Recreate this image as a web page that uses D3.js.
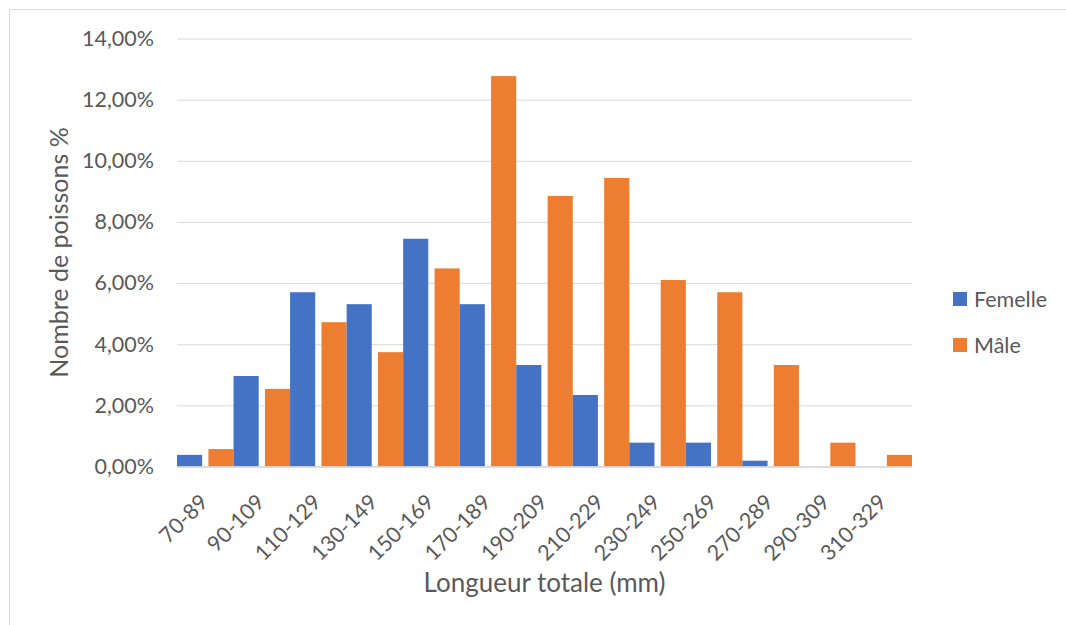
<!DOCTYPE html>
<html>
<head>
<meta charset="utf-8">
<script src="https://cdn.jsdelivr.net/npm/d3@7"></script>
<style>
  html, body { margin: 0; padding: 0; background: #fff; }
  svg { display: block; }
  text { font-family: Lato, "Open Sans", sans-serif; fill: #595959; }
</style>
</head>
<body>
<svg id="chart" width="1066" height="625"></svg>
<script>
const categories = ["70-89","90-109","110-129","130-149","150-169","170-189","190-209","210-229","230-249","250-269","270-289","290-309","310-329"];
const femelle = [0.0038, 0.0296, 0.0570, 0.0531, 0.0745, 0.0531, 0.0332, 0.0234, 0.0078, 0.0078, 0.0019, 0, 0];
const male    = [0.0057, 0.0254, 0.0472, 0.0374, 0.0648, 0.1277, 0.0885, 0.0944, 0.0610, 0.0570, 0.0332, 0.0078, 0.0038];
const seriesNames = ["Femelle", "Mâle"];
const colors = ["#4472C4", "#ED7D31"];
const yTicks = [0, 0.02, 0.04, 0.06, 0.08, 0.10, 0.12, 0.14];

const svg = d3.select("#chart");
const pLeft = 177, pRight = 912, pTop = 38.5, pBottom = 466.5;

// chart border
svg.append("rect").attr("x", 9.5).attr("y", 9.5).attr("width", 1100).attr("height", 700)
  .attr("fill", "none").attr("stroke", "#D9D9D9").attr("stroke-width", 1);

const x = d3.scaleBand().domain(categories).range([pLeft, pRight]).paddingInner(0).paddingOuter(0);
const y = d3.scaleLinear().domain([0, 0.14]).range([pBottom, pTop]);

const fmt = v => d3.format(".2f")(v * 100).replace(".", ",") + "%";

// y axis with gridlines
const yAxis = svg.append("g").attr("transform", `translate(${pLeft},0)`)
  .call(d3.axisLeft(y).tickValues(yTicks).tickFormat(fmt)
        .tickSizeInner(-(pRight - pLeft)).tickSizeOuter(0).tickPadding(23));
yAxis.select(".domain").remove();
yAxis.selectAll(".tick line").attr("stroke", "#D9D9D9").attr("stroke-width", 1);
yAxis.selectAll(".tick text").attr("font-size", 21.5).style("font-family", "Lato, sans-serif").attr("fill", "#595959");

// bars
const bw = x.bandwidth() / 2.25;
const data = categories.map((c, i) => ({ c, vals: [femelle[i], male[i]] }));
const groups = svg.append("g").selectAll("g").data(data).join("g");
groups.selectAll("rect").data(d => d.vals.map((v, s) => ({ c: d.c, v, s })))
  .join("rect")
  .attr("x", d => x(d.c) + d.s * 1.25 * bw)
  .attr("width", bw)
  .attr("y", d => y(d.v))
  .attr("height", d => y(0) - y(d.v))
  .attr("fill", d => colors[d.s]);

// x axis
const xAxis = svg.append("g").attr("transform", `translate(0,${pBottom})`)
  .call(d3.axisBottom(x).tickSize(0).tickSizeOuter(0));
xAxis.select(".domain").attr("stroke", "#D9D9D9").attr("stroke-width", 1.5);
xAxis.selectAll(".tick text")
  .attr("font-size", 21.5).style("font-family", "Lato, sans-serif").attr("fill", "#595959")
  .attr("text-anchor", "end")
  .attr("dy", 0)
  .attr("y", 0)
  .attr("transform", "translate(4,37) rotate(-45)");

// axis titles
svg.append("text").attr("x", (pLeft + pRight) / 2).attr("y", 592)
  .attr("text-anchor", "middle").attr("font-size", 26).text("Longueur totale (mm)");
svg.append("text").attr("transform", `translate(68,${(pTop + pBottom) / 2}) rotate(-90)`)
  .attr("text-anchor", "middle").attr("font-size", 25).text("Nombre de poissons %");

// legend
const legend = svg.append("g").selectAll("g").data(seriesNames).join("g")
  .attr("transform", (d, i) => `translate(953,${292 + i * 46})`);
legend.append("rect").attr("width", 14).attr("height", 14).attr("fill", (d, i) => colors[i]);
legend.append("text").attr("x", 21).attr("y", 7).attr("dy", "0.36em").attr("font-size", 21.5).text(d => d);
</script>
</body>
</html>
